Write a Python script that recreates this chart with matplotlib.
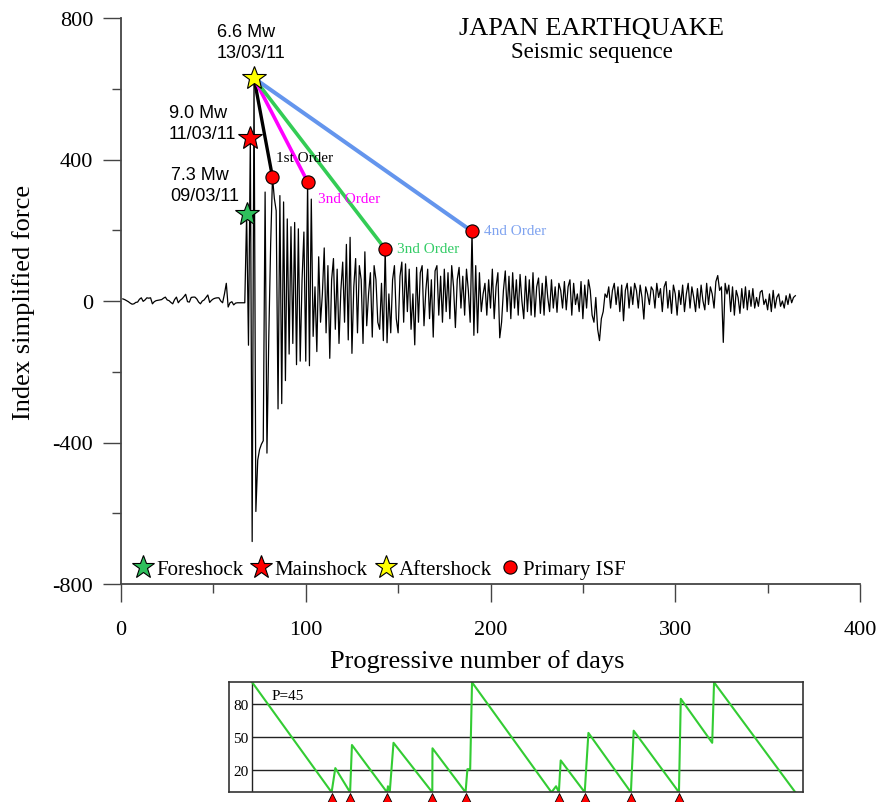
import numpy as np
import matplotlib.pyplot as plt
from matplotlib.lines import Line2D

plt.rcParams['font.family'] = ['Liberation Serif', 'DejaVu Serif']
plt.rcParams['axes.unicode_minus'] = False

# indice di forza semplificato, un valore per giorno (giorno 1 .. 365)
force = [
    6, 4, 1, -2, -6, -9, -8, -4, -3, 5,
    9, -1, 3, 9, 8, 9, -8, -2, 1, 2,
    3, 4, 8, 11, 3, 1, -4, -8, 4, 11,
    -5, 2, 6, 12, 19, -2, -3, 10, 11, 11,
    6, -3, -8, 0, 3, 10, 17, -4, 2, 6,
    8, 9, 9, 0, -5, 20, 50, -17, -5, -2,
    -11, -6, -5, -5, -5, -5, -5, 245, -125, 460,
    -680, 630, -595, -450, -420, -405, -395, 308, -430, -100,
    160, 350, 290, 255, -305, 298, -290, 280, -225, 232,
    -150, 210, -120, 222, -180, 204, -170, 60, 195, -170,
    337, -183, 288, -100, 40, -143, 125, -60, 20, 150,
    -90, 100, -162, 60, 120, -80, 90, -120, 30, 110,
    -60, 160, -110, 180, -148, 40, 120, -90, 100, 60,
    -120, 139, -70, 20, 80, -102, 100, 60, -60, -80,
    50, -112, 147, -118, 20, -90, 60, 100, -50, -90,
    70, 110, -60, 105, -30, 90, -80, 20, -124, 95,
    -60, 80, 100, -70, 30, 90, -50, 60, -102, 85,
    100, -40, 70, -60, 90, -30, 80, -50, 100, 40,
    -75, 60, 95, -20, 70, -40, 90, 30, -60, 197,
    -97, 100, -90, 80, -30, 20, 50, -40, 60, -20,
    90, -50, 40, 80, -104, -60, 30, 85, -30, 70,
    -50, 80, -20, 60, -40, 75, 0, -50, 70, -30,
    60, -40, 80, -45, 40, 65, -35, 50, -40, 70,
    10, -30, 60, -20, 40, -32, 50, 30, -20, 55,
    -25, 40, 60, -40, 50, -10, 20, -30, 55, -50,
    45, -20, 60, 30, -40, -60, 10, -80, -112, -50,
    -30, 20, 10, 40, -20, 30, 50, -10, 40, -30,
    45, -56, 30, 50, -20, 40, -10, 50, 30, -20,
    45, 10, -51, 40, 20, -10, 40, 30, -20, 50,
    10, 35, -30, 40, 55, -20, 30, -35, 45, 20,
    -40, 30, -10, 45, -30, 20, 50, -20, 40, 10,
    -30, 35, -20, 45, 0, -25, 50, -10, 40, 20,
    -20, 55, 72, 30, 40, -117, 50, 20, 45, -30,
    40, -40, 30, 10, -35, 35, -20, 40, -25, 30,
    -15, 35, -20, 10, -15, 25, 30, -10, 5, -25,
    20, -30, 30, -20, 10, 20, -15, 0, -20, 15,
    -10, 20, -5, 10, 15,
]
days = np.arange(1, len(force) + 1)

# terremoti (foreshock, mainshock, aftershock)
quake_days = [68, 70, 72]
quake_colors = ['#2fbf5c', '#ff0000', '#ffff00']
quake_names = ['Foreshock', 'Mainshock', 'Aftershock']
quake_text = ['7.3 Mw\n09/03/11', '9.0 Mw\n11/03/11', '6.6 Mw\n13/03/11']

# primary ISF
isf_days = [82, 101, 143, 190]
order_names = ['1st Order', '3nd Order', '3nd Order', '4nd Order']
order_colors = ['black', '#ff00ff', '#33cc55', '#6495ed']
order_text_colors = ['black', '#ff00ff', '#33cc66', '#7fa3f0']

# pannello inferiore (P=45)
p_days = [71, 114, 116, 124, 125, 144, 144.5, 145.5, 147.5, 168.5, 168.6, 186.5,
          187.5, 189, 190, 233, 235.5, 237, 238, 251, 253, 276, 277.5, 302,
          303, 320, 321, 365]
p_vals = [100, 0, 22, 0, 43, 0, 5.5, 1, 45, 0, 40, 0,
          21, 21, 100, 0, 5.5, 0, 29, 0, 54, 0, 56, 0,
          85, 45, 100, 0]
p_marks = [114, 124, 144, 168.5, 186.5, 237, 251, 276, 302]
p_levels = [20, 50, 80]

force = np.array(force)
quake_force = force[np.array(quake_days) - 1]
isf_force = force[np.array(isf_days) - 1]

fig = plt.figure(figsize=(8.84, 8.03), dpi=100)
ax = fig.add_axes([121 / 884, 1 - 585 / 803, 739 / 884, 566 / 803])

ax.plot(days, force, color='black', lw=0.9, zorder=2)

# linee dall'aftershock ai primary ISF
x0, y0 = quake_days[2], quake_force[2]
lws = [2.4, 2.6, 2.6, 2.9]
for d, f, c, w in zip(isf_days, isf_force, order_colors, lws):
    ax.plot([x0, d], [y0, f], color=c, lw=w, solid_capstyle='butt', zorder=3)

ax.plot(isf_days, isf_force, 'o', ms=9.5, mfc='#ff0000', mec='black', mew=0.8, zorder=5)
for d, f, c in zip(quake_days, quake_force, quake_colors):
    ax.plot(d, f, '*', ms=18, mfc=c, mec='black', mew=0.8, zorder=6)

order_pos = [(83.7, 406), (106.6, 291), (149.2, 147), (196.5, 198)]
for (tx, ty), t, c in zip(order_pos, order_names, order_text_colors):
    ax.text(tx, ty, t, color=c, fontsize=11, ha='left', va='center', zorder=7)

mw_pos = [(26.9, 329), (26.0, 503), (52.0, 731)]
for (tx, ty), t in zip(mw_pos, quake_text):
    ax.text(tx, ty, t, family=['Liberation Sans', 'DejaVu Sans'], fontsize=13,
            ha='left', va='center', linespacing=1.3, zorder=7)

ax.text(254.9, 772, 'JAPAN EARTHQUAKE', fontsize=19, ha='center', va='center')
ax.text(254.9, 705, 'Seismic sequence', fontsize=16.5, ha='center', va='center')

ax.set_xlim(0, 400)
ax.set_ylim(-800, 800)
ax.set_xticks([0, 100, 200, 300, 400])
ax.set_xticks([50, 150, 250, 350], minor=True)
ax.set_yticks([-800, -400, 0, 400, 800])
ax.set_yticks([-600, -200, 200, 600], minor=True)
for s in ['top', 'right']:
    ax.spines[s].set_visible(False)
for s in ['left', 'bottom']:
    ax.spines[s].set_color('#444444')
    ax.spines[s].set_linewidth(1.3)
ax.tick_params(which='major', length=13, width=1.0, color='#444444', labelsize=16)
ax.tick_params(which='minor', length=6.5, width=1.0, color='#444444')
ax.tick_params(axis='x', which='major', pad=13)
ax.tick_params(axis='y', which='major', pad=7)

ax.set_xlabel('Progressive number of days', fontsize=19)
ax.set_ylabel('Index simplified force', fontsize=19)
ax.xaxis.set_label_coords(0.482, -0.115)
ax.yaxis.set_label_coords(-0.116, 0.5)

handles = [Line2D([], [], ls='none', marker='*', ms=17, mfc=c, mec='black', mew=0.8)
           for c in quake_colors]
handles.append(Line2D([], [], ls='none', marker='o', ms=9.5, mfc='#ff0000', mec='black', mew=0.8))
ax.legend(handles, quake_names + ['Primary ISF'], loc='lower left', ncol=4,
          bbox_to_anchor=(0.0, -0.012), frameon=False, fontsize=15,
          handlelength=1.0, handletextpad=0.15, columnspacing=0.35,
          borderaxespad=0.15)

# pannello inferiore
ax2 = fig.add_axes([229 / 884, 1 - 793.3 / 803, 574 / 884, 110 / 803])
ax2.set_xlim((229 - 121) / 1.8475, (803 - 121) / 1.8475)
ax2.set_ylim(0, 100)
ax2.hlines(p_levels, 71, ax2.get_xlim()[1], color='#222222', lw=1.0)
ax2.axvline(71, color='#222222', lw=1.0)
ax2.plot(p_days, p_vals, color='#33cc33', lw=1.5)
ax2.plot(p_marks, [-7] * len(p_marks), '^', ms=10, mfc='#ff0000', mec='black',
         mew=0.6, clip_on=False, zorder=5)
ax2.text(81.7, 88, 'P=45', fontsize=11, ha='left', va='center')
ax2.set_xticks([])
ax2.set_yticks(p_levels)
ax2.tick_params(axis='y', length=0, pad=-14, labelsize=11)
for s in ax2.spines.values():
    s.set_color('#333333')
    s.set_linewidth(1.2)

fig.savefig('out.png', dpi=100)
